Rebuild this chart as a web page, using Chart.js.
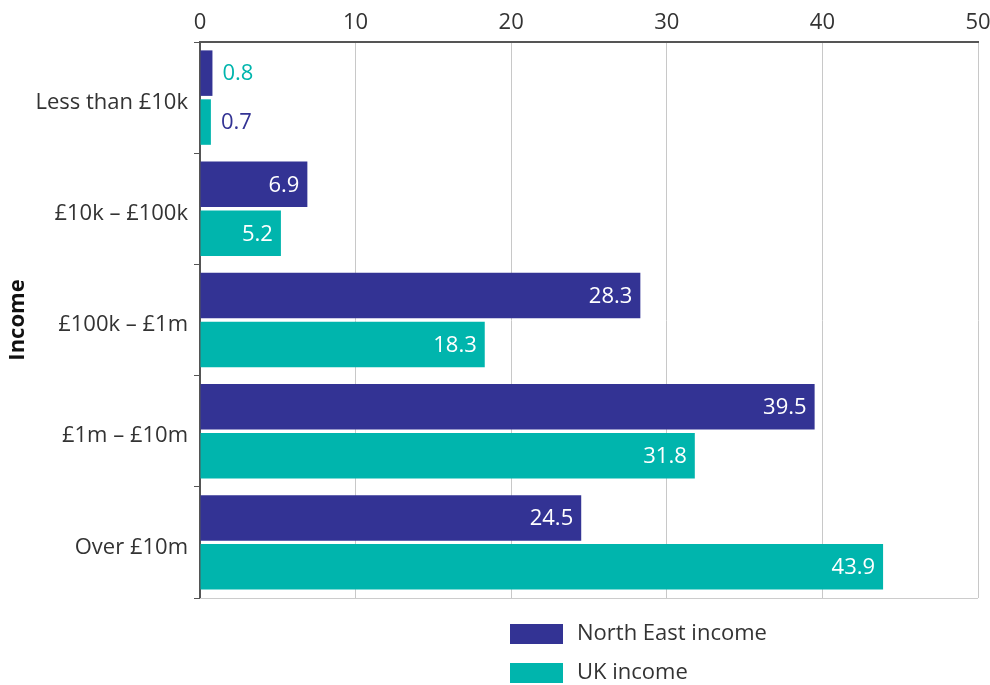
<!DOCTYPE html>
<html>
<head>
<meta charset="utf-8">
<script src="https://cdn.jsdelivr.net/npm/chart.js@4"></script>
<style>
  html, body { margin: 0; padding: 0; background: #fff; }
  #wrap { width: 990px; height: 685px; }
</style>
</head>
<body>
<div id="wrap"><canvas id="myChart" width="990" height="685"></canvas></div>
<script>
const categories = ['Less than £10k', '£10k – £100k', '£100k – £1m', '£1m – £10m', 'Over £10m'];
const northEast = [0.8, 6.9, 28.3, 39.5, 24.5];
const uk = [0.7, 5.2, 18.3, 31.8, 43.9];
const xTicks = [0, 10, 20, 30, 40, 50];

const purple = '#333394';
const teal = '#00b5ad';
const fontFamily = '"Open Sans", "Noto Sans", sans-serif';

// value labels: white inside the bar, outside (in the other colour) when the bar is too short
const barLabels = {
    id: 'barLabels',
    afterDatasetsDraw(chart) {
        const ctx = chart.ctx;
        ctx.save();
        ctx.font = '22px ' + fontFamily;
        ctx.textBaseline = 'middle';
        chart.data.datasets.forEach(function(ds, i) {
            const other = chart.data.datasets[1 - i].backgroundColor;
            chart.getDatasetMeta(i).data.forEach(function(bar, j) {
                const v = ds.data[j];
                const txt = v.toFixed(1);
                if (v < 3) {
                    ctx.fillStyle = other;
                    ctx.textAlign = 'left';
                    ctx.fillText(txt, bar.x + 10, bar.y + 1);
                } else {
                    ctx.fillStyle = '#ffffff';
                    ctx.textAlign = 'right';
                    ctx.fillText(txt, bar.x - 8, bar.y + 1);
                }
            });
        });
        ctx.restore();
    }
};

// bottom frame line + stacked legend under the chart
const extras = {
    id: 'extras',
    beforeDatasetsDraw(chart) {
        const {ctx, chartArea} = chart;
        ctx.save();
        ctx.strokeStyle = '#cccccc';
        ctx.lineWidth = 1;
        ctx.beginPath();
        ctx.moveTo(chartArea.left, chartArea.bottom + 0.5);
        ctx.lineTo(chartArea.right, chartArea.bottom + 0.5);
        ctx.stroke();
        ctx.restore();
    },
    afterDraw(chart) {
        const {ctx, chartArea} = chart;
        ctx.save();
        ctx.font = '22px ' + fontFamily;
        ctx.textBaseline = 'middle';
        ctx.textAlign = 'left';
        chart.data.datasets.forEach(function(ds, i) {
            const x = chartArea.left + 310;
            const y = chartArea.bottom + 36 + i * 39;
            ctx.fillStyle = ds.backgroundColor;
            ctx.fillRect(x, y - 10, 53, 20);
            ctx.fillStyle = '#333333';
            ctx.fillText(ds.label, x + 67, y);
        });
        ctx.restore();
    }
};

document.addEventListener('DOMContentLoaded', function(){
    const ctx = document.getElementById('myChart');
    const myChart = new Chart(ctx, {
        type: 'bar',
        data: {
            labels: categories,
            datasets: [{
                label: 'North East income',
                data: northEast,
                backgroundColor: purple
            }, {
                label: 'UK income',
                data: uk,
                backgroundColor: teal
            }]
        },
        options: {
            indexAxis: 'y',
            responsive: false,
            animation: false,
            categoryPercentage: 0.88,
            barPercentage: 0.93,
            layout: {
                padding: { left: 0, right: 12, top: 0, bottom: 87 }
            },
            plugins: {
                legend: { display: false },
                tooltip: { enabled: false }
            },
            scales: {
                x: {
                    position: 'top',
                    min: 0,
                    max: 50,
                    afterFit: function(scale) {
                        scale.height = 42;
                        scale.paddingRight = 0;
                        scale.paddingLeft = 0;
                    },
                    afterBuildTicks: function(scale) {
                        scale.ticks = xTicks.map(function(v) { return { value: v }; });
                    },
                    grid: {
                        color: '#c8c8c8',
                        drawTicks: false
                    },
                    border: { color: '#555555', width: 2 },
                    ticks: {
                        padding: 6,
                        color: '#333333',
                        font: { family: fontFamily, size: 22 }
                    }
                },
                y: {
                    afterFit: function(scale) { scale.width = 200; },
                    grid: {
                        drawOnChartArea: false,
                        drawTicks: true,
                        tickLength: 6,
                        offset: true,
                        color: '#555555'
                    },
                    border: { color: '#555555', width: 2 },
                    ticks: {
                        padding: 6,
                        labelOffset: 5,
                        color: '#333333',
                        font: { family: fontFamily, size: 22 }
                    },
                    title: {
                        display: true,
                        text: 'Income',
                        color: '#111111',
                        padding: { top: 5, bottom: 0 },
                        font: { family: fontFamily, size: 22, weight: 'bold' }
                    }
                }
            }
        },
        plugins: [barLabels, extras]
    });
});
</script>
</body>
</html>
